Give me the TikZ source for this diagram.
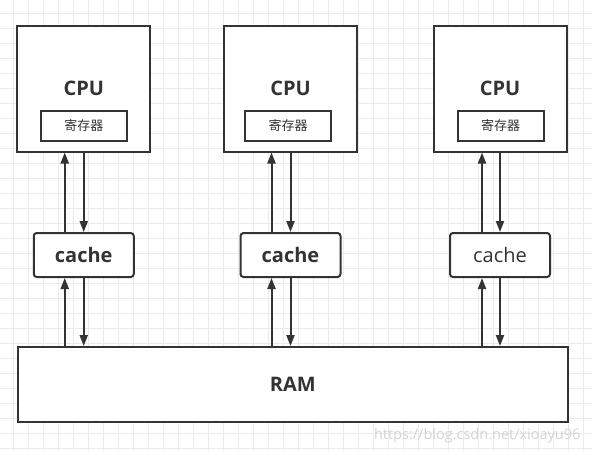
\documentclass[tikz,border=0pt]{standalone}
\usepackage{fontspec}
\setmainfont{Open Sans}
\newfontfamily\cjk{Noto Sans CJK SC}
\usetikzlibrary{arrows.meta}
\definecolor{ink}{HTML}{333333}
\definecolor{gridgray}{HTML}{EBEBEB}
\definecolor{markgray}{HTML}{D4D4D4}

\begin{document}
\begin{tikzpicture}[x=1pt,y=-1pt]
	\tikzstyle{cpubox} = [draw=ink,line width=2pt,minimum width=133pt,minimum height=126pt,text=ink,font=\fontsize{20}{24}\selectfont\bfseries]
	\tikzstyle{regbox} = [draw=ink,line width=2pt,minimum width=86pt,minimum height=30pt,text=ink,font=\cjk\fontsize{13}{15}\selectfont]
	\tikzstyle{cachebox} = [draw=ink,line width=2pt,rounded corners=3pt,minimum width=100pt,minimum height=44pt,text=ink,font=\fontsize{20}{24}\selectfont]
	\tikzstyle{link} = [draw=ink,line width=2pt,-{Triangle[length=11pt,width=8pt]}]

	% background grid
	\fill[white] (0,0) rectangle (592,451);
	\useasboundingbox (0,0) rectangle (592,451);
	\foreach \x in {13.5,28.5,...,590} \draw[gridgray,line width=1pt] (\x,0) -- (\x,451);
	\foreach \y in {13.5,28.5,...,450} \draw[gridgray,line width=1pt] (0,\y) -- (592,\y);

	\node[cpubox,fill=white] (cpu1) at (83.75,88.5) {CPU};
	\node[cpubox,fill=white] (cpu2) at (290.5,88.5) {CPU};
	\node[cpubox,fill=white] (cpu3) at (500,88.5) {CPU};

	\node[regbox] (reg1) at (83.75,125.5) {寄存器};
	\node[regbox] (reg2) at (288,125.5) {寄存器};
	\node[regbox] (reg3) at (500.5,125.5) {寄存器};

	\node[cachebox,fill=white,font=\fontsize{20}{24}\selectfont\bfseries] (cache1) at (83.75,255) {cache};
	\node[cachebox,fill=white,font=\fontsize{20}{24}\selectfont\bfseries] (cache2) at (290.5,255) {cache};
	\node[cachebox,fill=white] (cache3) at (500,255) {cache};

	\node[draw=ink,line width=2pt,fill=white,minimum width=550pt,minimum height=75pt,text=ink,font=\fontsize{20}{24}\selectfont\bfseries] (ram) at (292.75,384.5) {RAM};

	\coordinate (up1) at ([xshift=-19pt]cache1.south);
	\coordinate (up2) at ([xshift=-19pt]cache2.south);
	\coordinate (up3) at ([xshift=-18pt]cache3.south);

	% cache <-> cpu
	\draw[link] ([xshift=-19pt]cache1.north) -- ([xshift=-19pt]cpu1.south);
	\draw[link] (cpu1.south) -- (cache1.north);
	\draw[link] ([xshift=-19pt]cache2.north) -- ([xshift=-19pt]cpu2.south);
	\draw[link] (cpu2.south) -- (cache2.north);
	\draw[link] ([xshift=-18pt]cache3.north) -- ([xshift=-18pt]cpu3.south);
	\draw[link] (cpu3.south) -- (cache3.north);

	% ram <-> cache
	\draw[link] (up1 |- ram.north) -- (up1);
	\draw[link] (cache1.south) -- (cache1.south |- ram.north);
	\draw[link] (up2 |- ram.north) -- (up2);
	\draw[link] (cache2.south) -- (cache2.south |- ram.north);
	\draw[link] (up3 |- ram.north) -- (up3);
	\draw[link] (cache3.south) -- (cache3.south |- ram.north);

	\node[anchor=east,text=markgray,font=\fontsize{14.5}{17}\selectfont] (mark) at (584,436) {https://blog.csdn.net/xioayu96};
\end{tikzpicture}
\end{document}
